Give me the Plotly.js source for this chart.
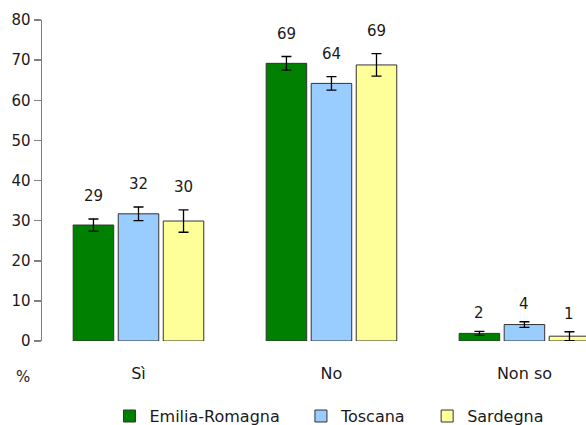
<!DOCTYPE html>
<html>
<head>
<meta charset="utf-8">
<script src="https://cdn.plot.ly/plotly-3.0.1.min.js"></script>
<style>html,body{margin:0;padding:0;background:#fff;}#chart{width:586px;height:425px;}</style>
</head>
<body>
<div id="chart"></div>
<script>
const categories = ["Sì", "No", "Non so"];
const seriesNames = ["Emilia-Romagna", "Toscana", "Sardegna"];
const emiliaRomagna = [28.9, 69.2, 1.9];
const toscana = [31.7, 64.2, 4.1];
const sardegna = [29.9, 68.8, 1.2];
const emiliaErr = [1.5, 1.7, 0.5];
const toscanaErr = [1.7, 1.7, 0.7];
const sardegnaErr = [2.8, 2.8, 1.1];
const colors = ["#008000", "#99CCFF", "#FFFF99"];
const yTicks = [0, 10, 20, 30, 40, 50, 60, 70, 80];

const values = [emiliaRomagna, toscana, sardegna];
const errs = [emiliaErr, toscanaErr, sardegnaErr];
const FONT = "DejaVu Sans";
const TXT = "#1a1a1a";
const bargap = 0.30;
const slot = (1 - bargap) / values.length;
const legendNames = ["legend", "legend2", "legend3"];
const legendX = [0.124, 0.476, 0.708];

const traces = values.map((v, i) => ({
  type: "bar",
  name: seriesNames[i],
  x: categories,
  y: v,
  legend: legendNames[i],
  marker: {color: colors[i], line: {color: "#333333", width: 1}},
  error_y: {type: "data", array: errs[i], visible: true, color: "#000", thickness: 1.3, width: 5},
  hoverinfo: "none"
}));

const annotations = [];
values.forEach((v, i) => {
  v.forEach((val, j) => {
    annotations.push({
      x: j + (i - (values.length - 1) / 2) * slot,
      y: val + errs[i][j],
      xref: "x", yref: "y",
      text: String(Math.round(val)),
      showarrow: false,
      yanchor: "bottom",
      yshift: j === 2 ? 7 : 12,
      font: {family: FONT, size: 15, color: TXT}
    });
  });
});
annotations.push({
  xref: "paper", yref: "paper", x: -0.0358, y: -0.111,
  xanchor: "center", yanchor: "middle",
  text: "%", showarrow: false,
  font: {family: FONT, size: 15, color: TXT}
});

const layout = {
  width: 586, height: 425,
  margin: {l: 42, r: 0, t: 20, b: 84, autoexpand: false},
  paper_bgcolor: "#fff", plot_bgcolor: "#fff",
  barmode: "group", bargap: bargap, bargroupgap: 0.1,
  font: {family: FONT, size: 15, color: TXT},
  showlegend: true,
  xaxis: {type: "category", range: [-0.5, 2.319], showline: false, ticks: "", showgrid: false,
          zeroline: false, tickfont: {family: FONT, size: 16, color: TXT}, ticklabelstandoff: 21},
  yaxis: {range: [0, 80], tickvals: yTicks, showline: true, linecolor: "#808080", linewidth: 1.5,
          ticks: "outside", ticklen: 7, tickcolor: "#808080", tickwidth: 1.5,
          showgrid: false, zeroline: false, tickfont: {family: FONT, size: 15, color: TXT}},
  annotations: annotations
};
legendNames.forEach((ln, i) => {
  layout[ln] = {orientation: "h", x: legendX[i], xanchor: "left", y: -0.234, yanchor: "middle",
                bgcolor: "rgba(0,0,0,0)", font: {family: FONT, size: 16, color: TXT}};
});

Plotly.newPlot("chart", traces, layout, {staticPlot: true, displayModeBar: false});
</script>
</body>
</html>
